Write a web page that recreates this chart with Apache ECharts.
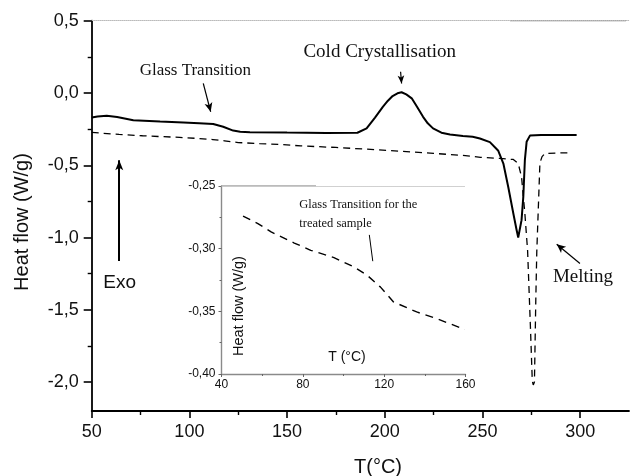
<!DOCTYPE html>
<html><head><meta charset="utf-8">
<script src="https://cdn.jsdelivr.net/npm/echarts@6/dist/echarts.min.js"></script>
<style>html,body{margin:0;padding:0;background:#fff}#c{width:630px;height:476px}</style>
</head><body><div id="c"></div>
<script>
// ---- data ----
const untreatedT  = [50, 53, 57.7, 63, 71.3, 85, 96.9, 105, 112.2, 117.3, 122.4, 126, 131, 150, 170, 186, 190.7, 195, 199, 201.5, 204, 206.5, 208.6, 211, 213.8, 216.5, 219.6, 222, 224.7, 229, 233.4, 240, 245, 248.7, 253.8, 258.1, 260.7, 263.2, 265.8, 267.5, 268.3, 270, 270.9, 271.7, 272.6, 274.3, 280, 290, 298.2];
const untreatedHF = [-0.169, -0.162, -0.158, -0.166, -0.188, -0.198, -0.204, -0.209, -0.215, -0.234, -0.260, -0.268, -0.271, -0.274, -0.276, -0.275, -0.245, -0.170, -0.096, -0.055, -0.021, -0.002, 0.005, -0.010, -0.037, -0.095, -0.165, -0.210, -0.245, -0.275, -0.287, -0.297, -0.303, -0.315, -0.340, -0.400, -0.488, -0.650, -0.834, -0.950, -1.000, -0.880, -0.719, -0.465, -0.338, -0.295, -0.290, -0.290, -0.290];
const treatedT  = [50, 64, 76, 84, 95, 105, 112, 118, 125, 136, 146, 157, 175, 191, 208, 225, 240, 249, 259, 265.8, 268.3, 270, 271.7, 273.1, 274.5, 275.5, 276, 276.6, 277.3, 277.8, 279.4, 280.5, 282, 290, 295.7];
const treatedHF = [-0.273, -0.287, -0.296, -0.301, -0.307, -0.315, -0.322, -0.331, -0.343, -0.350, -0.356, -0.366, -0.377, -0.389, -0.403, -0.418, -0.432, -0.445, -0.453, -0.460, -0.488, -0.580, -0.834, -1.090, -1.600, -1.990, -2.020, -2.000, -1.430, -1.100, -0.485, -0.440, -0.418, -0.415, -0.414];
const insetT  = [50.6, 57.9, 64.4, 75.8, 83.9, 95.3, 105.1, 111.6, 118.1, 124.6, 136, 145.8, 159.7];
const insetHF = [-0.274, -0.280, -0.2866, -0.2955, -0.3013, -0.3071, -0.3146, -0.3212, -0.3305, -0.3425, -0.3505, -0.3558, -0.3645];

const mainXTicks = [50, 100, 150, 200, 250, 300];
const mainXMinor = [75, 125, 175, 225, 275];
const mainYTicks = [-2.0, -1.5, -1.0, -0.5, 0.0, 0.5];
const mainYMinor = [-1.75, -1.25, -0.75, -0.25, 0.25];
const insetXTicks = [40, 80, 120, 160];
const insetYTicks = [-0.40, -0.35, -0.30, -0.25];

const zip = (a, b) => a.map((v, i) => [v, b[i]]);
const fmt1 = v => (Math.abs(v) < 1e-9 ? 0 : v).toFixed(1).replace('.', ',');
const fmt2 = v => v.toFixed(2).replace('.', ',');
const SANS = 'Liberation Sans, Arial, sans-serif';
const SERIF = 'Liberation Serif, Times New Roman, serif';

function txt(text, x, y, size, family, opts) {
  opts = opts || {};
  return {
    type: 'text', x: x, y: y, rotation: opts.rot || 0, silent: true,
    style: {
      text: text, x: 0, y: 0, fill: '#111',
      font: size + 'px ' + family,
      textAlign: opts.align || 'center', align: opts.align || 'center',
      textVerticalAlign: 'middle', verticalAlign: 'middle'
    }
  };
}

const chart = echarts.init(document.getElementById('c'), null, {renderer: 'canvas'});
const axisBlack = {show: true, onZero: false, lineStyle: {color: '#000', width: 1.8}};
const insetLine = {show: true, onZero: false, lineStyle: {color: '#8a8a8a', width: 1.4}};

chart.setOption({
  animation: false,
  backgroundColor: '#fff',
  grid: [
    {left: 91.7, top: 20.7, right: 1, bottom: 65},
    {left: 221.5, top: 186, width: 244, height: 188}
  ],
  xAxis: [
    {gridIndex: 0, type: 'value', position: 'bottom', min: 50, max: 325,
      axisLine: axisBlack,
      axisTick: {show: true, inside: false, length: 7, customValues: insetXTicks.length ? mainXTicks : mainXTicks, lineStyle: {color: '#000', width: 1.6}},
      axisLabel: {show: true, customValues: mainXTicks, margin: 12, color: '#111', fontSize: 18, fontFamily: SANS},
      splitLine: {show: false}},
    {gridIndex: 0, type: 'value', position: 'bottom', min: 50, max: 325,
      axisLine: {show: false, onZero: false},
      axisTick: {show: true, length: 4, customValues: mainXMinor, lineStyle: {color: '#000', width: 1.4}},
      axisLabel: {show: false}, splitLine: {show: false}},
    {gridIndex: 0, type: 'value', position: 'top', min: 50, max: 325,
      axisLine: {show: true, onZero: false, lineStyle: {color: '#bbb', width: 1, type: 'dotted'}},
      axisTick: {show: false}, axisLabel: {show: false}, splitLine: {show: false}},
    {gridIndex: 1, type: 'value', position: 'bottom', min: 40, max: 160, interval: 40,
      axisLine: insetLine,
      axisTick: {show: true, length: 3, lineStyle: {color: '#666', width: 1}},
      minorTick: {show: true, splitNumber: 2, length: 2, lineStyle: {color: '#666', width: 1}},
      axisLabel: {show: true, margin: 5, color: '#111', fontSize: 12, fontFamily: SANS},
      splitLine: {show: false}},
    {gridIndex: 1, type: 'value', position: 'top', min: 40, max: 160,
      axisLine: {show: true, onZero: false, lineStyle: {color: '#ccc', width: 1, type: 'dotted'}},
      axisTick: {show: false}, axisLabel: {show: false}, splitLine: {show: false}}
  ],
  yAxis: [
    {gridIndex: 0, type: 'value', position: 'left', offset: 0, min: -2.2, max: 0.5,
      axisLine: axisBlack,
      axisTick: {show: true, length: 8, customValues: mainYTicks, lineStyle: {color: '#000', width: 1.6}},
      axisLabel: {show: true, customValues: mainYTicks, margin: 13, color: '#111', fontSize: 18, fontFamily: SANS, formatter: fmt1},
      splitLine: {show: false}},
    {gridIndex: 0, type: 'value', position: 'left', offset: 0, min: -2.2, max: 0.5,
      axisLine: {show: false, onZero: false},
      axisTick: {show: true, length: 4, customValues: mainYMinor, lineStyle: {color: '#000', width: 1.4}},
      axisLabel: {show: false}, splitLine: {show: false}},
    {gridIndex: 1, type: 'value', position: 'left', min: -0.40, max: -0.25, interval: 0.05,
      axisLine: insetLine,
      axisTick: {show: true, length: 3, lineStyle: {color: '#666', width: 1}},
      minorTick: {show: true, splitNumber: 2, length: 2, lineStyle: {color: '#666', width: 1}},
      axisLabel: {show: true, margin: 6, color: '#111', fontSize: 12, fontFamily: SANS, formatter: fmt2},
      splitLine: {show: false}}
  ],
  series: [
    {type: 'line', name: 'untreated', xAxisIndex: 0, yAxisIndex: 0,
      data: zip(untreatedT, untreatedHF), symbol: 'none', showSymbol: false, silent: true,
      lineStyle: {color: '#000', width: 2},
      markLine: {silent: true, animation: false, label: {show: false}, symbol: ['none', 'none'],
        lineStyle: {color: '#000', width: 1.2, type: 'solid'},
        data: [
          [{coord: [107.1, 0.066], symbol: 'none'}, {coord: [110.9, -0.130], symbol: 'arrow', symbolSize: [6, 9]}],
          [{coord: [208.1, 0.147], symbol: 'none'}, {coord: [208.6, 0.066], symbol: 'arrow', symbolSize: [5, 8]}],
          [{coord: [64.1, -1.162], symbol: 'none', lineStyle: {width: 2}}, {coord: [64.1, -0.465], symbol: 'arrow', symbolSize: [6, 10]}],
          [{coord: [299.9, -1.18], symbol: 'none'}, {coord: [288.0, -1.046], symbol: 'arrow', symbolSize: [6, 9]}]
        ]}},
    {type: 'line', name: 'treated', xAxisIndex: 0, yAxisIndex: 0,
      data: zip(treatedT, treatedHF), symbol: 'none', showSymbol: false, silent: true,
      lineStyle: {color: '#000', width: 1.3, type: [7, 5]}},
    {type: 'line', name: 'treated inset', xAxisIndex: 3, yAxisIndex: 2,
      data: zip(insetT, insetHF), symbol: 'none', showSymbol: false, silent: true,
      lineStyle: {color: '#000', width: 1.4, type: [8, 6]},
      markLine: {silent: true, animation: false, label: {show: false}, symbol: ['none', 'none'],
        lineStyle: {color: '#000', width: 1, type: 'solid'},
        data: [[{coord: [112.7, -0.289]}, {coord: [114.4, -0.310]}]]}}
  ],
  graphic: [
    {type: 'line', silent: true, shape: {x1: 510, y1: 20.7, x2: 626, y2: 20.7}, style: {stroke: '#555', lineWidth: 1}},
    {type: 'line', silent: true, shape: {x1: 221.5, y1: 186, x2: 316, y2: 186}, style: {stroke: '#777', lineWidth: 1}},
    txt('Heat flow (W/g)', 22, 222, 20, SANS, {rot: Math.PI / 2}),
    txt('T(°C)', 378, 467, 20, SANS),
    txt('Glass Transition', 195.3, 71, 17, SERIF),
    txt('Cold Crystallisation', 379.7, 52.3, 19, SERIF),
    txt('Melting', 583, 277.3, 19, SERIF),
    txt('Exo', 119.7, 282.3, 19, SANS),
    txt('Glass Transition for the', 299.3, 205, 12.5, SERIF, {align: 'left'}),
    txt('treated sample', 299.3, 223.3, 12.5, SERIF, {align: 'left'}),
    txt('T (°C)', 347, 356.7, 14, SANS),
    txt('Heat flow (W/g)', 239, 306, 14.5, SANS, {rot: Math.PI / 2})
  ]
});
</script>
</body></html>
